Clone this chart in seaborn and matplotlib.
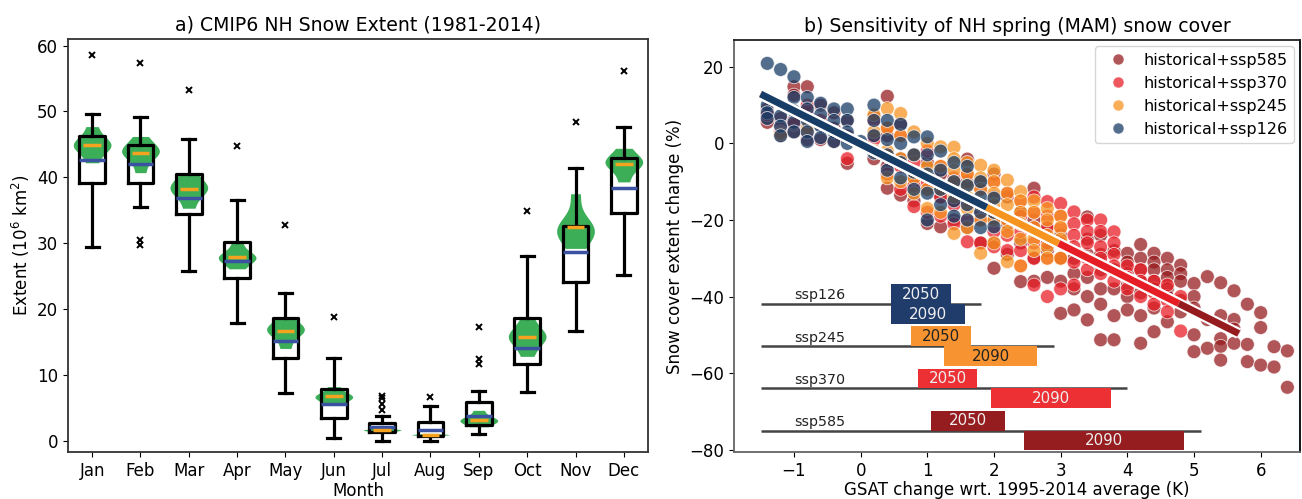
import numpy as np
import pandas as pd
import seaborn as sns
import matplotlib
matplotlib.use("Agg")
import matplotlib.pyplot as plt
import matplotlib.patheffects as pe

# ---------------- panel a data ----------------
months = ['Jan', 'Feb', 'Mar', 'Apr', 'May', 'Jun', 'Jul', 'Aug', 'Sep', 'Oct', 'Nov', 'Dec']

box_q1 = [39.2, 39.1, 34.4, 24.7, 12.5, 3.5, 1.3, 0.7, 2.4, 11.6, 24.1, 34.5]
box_q3 = [46.3, 44.9, 40.5, 30.2, 18.6, 7.8, 2.7, 2.9, 5.9, 18.6, 32.6, 43.0]
whis_lo = [29.4, 35.5, 25.8, 17.9, 7.3, 0.4, 0.0, 0.0, 1.0, 7.4, 16.7, 25.2]
whis_hi = [49.6, 49.2, 45.8, 36.6, 22.5, 12.5, 3.8, 5.2, 7.6, 28.1, 41.4, 47.7]
model_mean = [42.6, 42.0, 36.8, 27.3, 15.1, 5.5, 2.1, 1.6, 3.8, 14.0, 28.7, 38.3]
outliers = [[58.6], [57.4, 30.4, 29.7], [53.2], [44.8], [32.7], [18.8],
            [6.8, 6.5, 5.5, 4.6], [6.7], [17.2, 12.4, 11.7], [34.9], [48.4], [56.2]]

# observational estimates per month (violins, orange = their mean)
obs_extent = [
    [42.2, 44.5, 44.8, 45.0, 45.3, 47.7],
    [40.7, 43.4, 43.8, 44.0, 44.3, 46.2],
    [35.3, 37.6, 38.1, 38.5, 39.0, 40.6],
    [26.1, 27.4, 27.7, 28.0, 28.2, 30.0],
    [14.0, 16.2, 16.6, 16.9, 17.3, 18.5],
    [5.5, 6.3, 6.6, 6.8, 7.0, 8.2],
    [1.3, 1.5, 1.6, 1.6, 1.7, 1.9],
    [0.7, 0.85, 0.9, 0.9, 0.95, 1.1],
    [2.1, 2.8, 3.0, 3.2, 3.4, 4.6],
    [12.8, 15.0, 15.6, 16.0, 16.4, 18.5],
    [29.2, 31.4, 31.9, 32.3, 32.7, 37.5],
    [39.3, 41.6, 42.1, 42.4, 42.7, 44.4],
]

# ---------------- panel b data ----------------
scenarios = ['historical+ssp585', 'historical+ssp370', 'historical+ssp245', 'historical+ssp126']
scen_colors = ['#951b1e', '#e71d25', '#f79420', '#173c66']
fit_hi = [5.67, 4.77, 2.97, 1.89]  # end of each scenario's sensitivity line (K)

ssp585_gsat = [-1.4, -1.2, -1.0, -0.8, -0.6, -0.4, -0.2, 0.2, 0.4, 0.6, 0.8, 1.0, 1.2, 1.4, 1.6,
               1.8, 2.0, 2.2, 2.4, 2.6, 2.8, 3.0, 3.2, 3.4, 3.6, 3.8, 4.0, 4.2, 4.4, 4.6,
               4.8, 5.0, 5.2, 5.4, 5.6, 5.8, 6.0, 6.2, 6.4]
ssp585_snow = [[9.0, 7.0, 5.5], [6.5, 4.0, 2.0], [14.8, 12.6, 6.0, 3.0], [14.8, 8.0, 1.0],
               [10.0, 5.0, 1.0], [8.0, 4.0, 0.5], [6.0, 2.0, -5.2], [7.0, 2.0, -4.0],
               [12.3, 2.0, -6.0, -11.7], [5.0, -4.0, -13.5], [-3.0, -9.0, -15.0],
               [-5.0, -12.0, -20.9], [-8.0, -14.0, -21.8], [-10.0, -15.0, -20.0],
               [-4.1, -10.0, -16.0, -22.0], [-10.0, -18.0, -26.0],
               [-8.0, -14.0, -20.0, -26.0, -32.6], [-14.0, -21.0, -29.0], [-18.0, -26.0, -36.1],
               [-11.7, -20.0, -30.0, -36.0], [-22.0, -28.0, -35.0],
               [-24.0, -30.0, -36.0, -44.4], [-30.0, -34.0, -38.0, -43.5],
               [-19.2, -25.0, -29.0, -35.0, -40.0, -46.1], [-24.0, -29.0, -33.0, -38.0, -42.0, -51.3],
               [-28.0, -33.0, -38.0, -45.0, -51.3], [-28.7, -31.0, -34.0, -37.0, -40.0, -43.5],
               [-26.4, -30.0, -33.0, -36.0, -39.0, -45.0, -52.2],
               [-28.7, -31.0, -33.0, -36.0, -38.0, -43.0, -49.2],
               [-30.0, -33.0, -35.0, -38.0, -40.0, -46.6], [-31.8, -34.0, -36.0, -41.0, -44.0],
               [-36.6, -40.0, -43.0, -50.0, -54.4], [-34.8, -46.0, -53.5],
               [-36.4, -45.0, -51.0, -53.0, -56.6], [-38.5, -46.0, -48.5, -52.2],
               [-42.0, -52.5, -57.0], [-44.2, -48.1, -57.9], [-53.1, -58.4], [-54.2, -63.7]]

ssp370_gsat = [-1.4, -1.2, -1.0, -0.8, -0.6, -0.2, 0.2, 0.4, 0.6, 0.8, 1.0, 1.2, 1.4, 1.6, 1.8,
               2.0, 2.2, 2.4, 2.6, 2.8, 3.0, 3.2, 3.4, 3.6, 3.8, 4.0, 4.2, 4.4, 4.6, 4.8]
ssp370_snow = [[7.5], [3.0], [5.0], [3.0, 10.0], [6.0], [-4.0], [6.0, 1.0, -2.0],
               [4.0, -3.0, -8.0], [2.0, -6.0, -12.0], [-5.0, -11.0, -16.5],
               [-2.0, -10.0, -18.0], [-6.0, -14.0, -19.0], [-9.0, -16.0, -21.0],
               [-8.0, -15.0, -20.0, -25.7], [-12.0, -20.0, -26.0], [-10.0, -18.0, -23.0, -27.0],
               [-13.0, -20.0, -24.0, -28.0], [-15.0, -19.0, -23.0, -28.0, -32.0],
               [-14.0, -18.0, -22.0, -26.0, -30.0, -37.0], [-15.2, -19.0, -22.0, -26.0, -30.0, -40.0],
               [-15.7, -19.0, -22.0, -26.0, -30.0, -38.0], [-17.9, -21.0, -24.0, -27.0, -31.0, -37.0],
               [-20.0, -23.0, -26.0, -30.0, -33.0], [-20.0, -23.0, -27.0, -30.0, -34.0],
               [-23.1, -26.0, -29.0, -32.0, -36.0], [-32.0, -35.0, -38.0], [-33.0, -36.0, -40.0],
               [-36.0, -39.0, -42.0], [-37.0, -41.0, -44.0], [-40.0, -49.0]]

ssp245_gsat = [-1.2, -0.8, 0.2, 0.4, 0.6, 0.8, 1.0, 1.2, 1.4, 1.6, 1.8, 2.0, 2.2, 2.4, 2.6,
               2.8, 3.0]
ssp245_snow = [[2.5], [4.0], [7.5, 3.0, -2.0], [9.1, 4.0, -2.0, -9.0], [7.8, 2.0, -4.0, -10.0],
               [3.0, -3.0, -9.0, -13.0], [0.0, -6.0, -12.0, -17.0], [-0.9, -6.0, -12.0, -18.0],
               [-1.0, -4.0, -7.0, -10.0, -14.0, -23.5], [-5.0, -8.0, -11.0, -14.0, -17.0, -22.0],
               [-5.7, -9.0, -12.0, -16.0, -20.0, -28.7], [-7.0, -10.0, -13.0, -16.0, -20.0, -26.0],
               [-9.6, -13.0, -16.0, -20.0, -23.0, -30.9], [-12.6, -15.0, -18.0, -21.0, -25.0, -32.0],
               [-15.0, -18.0, -22.0, -25.0, -28.0], [-17.0, -20.0, -24.0, -27.0, -30.0],
               [-19.0, -22.0, -25.0, -30.0]]

ssp126_gsat = [-1.4, -1.2, -1.0, -0.8, -0.6, -0.4, -0.2, 0.0, 0.2, 0.4, 0.6, 0.8, 1.0, 1.2,
               1.4, 1.6, 1.8, 2.0]
ssp126_snow = [[20.9, 10.0, 8.0, 6.5], [19.3, 7.2, 4.5, 2.0], [17.4, 12.0, 8.5, 5.5, 3.0],
               [12.0, 9.0, 6.0, 3.0, 0.5], [10.5, 7.5, 4.5, 1.5], [9.0, 6.0, 3.0, 0.5],
               [9.0, 6.0, 3.0, 0.0], [0.5], [10.0, 6.0, 2.0, -2.5], [6.0, 1.0, -3.0, -7.0],
               [5.0, 0.0, -5.0, -9.0], [1.7, -3.0, -7.5, -12.0], [1.7, -3.0, -8.0, -13.0, -20.0],
               [-2.0, -7.0, -12.0, -16.0], [-5.0, -10.0, -15.0, -19.0],
               [-6.0, -11.0, -16.0, -20.0], [-10.0, -14.0, -18.0, -22.0], [-14.3, -18.0, -21.8]]

# assessed warming ranges (K) for the bars at the bottom
ssp_names = ['ssp126', 'ssp245', 'ssp370', 'ssp585']
ssp_bar_colors = ['#1f3c6b', '#f79431', '#ec3033', '#951c1f']
ssp_text_colors = ['#eeeeee', '#222222', '#eeeeee', '#eeeeee']
full_lo = [-1.5, -1.5, -1.5, -1.5]
full_hi = [1.81, 2.90, 4.00, 5.10]
mid_lo = [0.45, 0.75, 0.86, 1.05]
mid_hi = [1.35, 1.65, 1.75, 2.16]
end_lo = [0.45, 1.25, 1.95, 2.45]
end_hi = [1.56, 2.65, 3.75, 4.85]

# ---------------- figure ----------------
plt.rcParams['font.size'] = 12
plt.rcParams['axes.labelsize'] = 12
fig = plt.figure(figsize=(13.02, 4.99), dpi=100)
ax1 = fig.add_axes([0.0522, 0.0932, 0.4455, 0.8286])
ax2 = fig.add_axes([0.5637, 0.0942, 0.4348, 0.8256])

# ---- panel a ----
obs_df = pd.DataFrame([(m, v) for m, vals in zip(months, obs_extent) for v in vals],
                      columns=['month', 'extent'])
sns.violinplot(data=obs_df, x='month', y='extent', order=months, cut=0, inner=None,
               density_norm='width', width=0.78, color='#3cae58', saturation=1,
               linewidth=0, ax=ax1)

stats = []
for i in range(len(months)):
    stats.append(dict(q1=box_q1[i], q3=box_q3[i], whislo=whis_lo[i], whishi=whis_hi[i],
                      med=model_mean[i], fliers=outliers[i]))
pos = np.arange(len(months))
ax1.bxp(stats, positions=pos, widths=0.53, manage_ticks=False, zorder=3,
        boxprops=dict(color='black', lw=2.3),
        whiskerprops=dict(color='black', lw=2.3),
        capprops=dict(color='black', lw=2.3),
        medianprops=dict(color='#3b52a3', lw=2.5),
        flierprops=dict(marker='x', mec='black', ms=4, mew=1.4))
obs_mean = [np.mean(v) for v in obs_extent]
ax1.hlines(obs_mean, pos - 0.185, pos + 0.185, color='#f5a21f', lw=2.5, zorder=4)

ax1.set_xlim(-0.5, 11.5)
ax1.set_ylim(-1.8, 61.0)
ax1.set_yticks([0, 10, 20, 30, 40, 50, 60])
ax1.set_xticks(pos)
ax1.set_xticklabels(months)
ax1.set_xlabel('Month', labelpad=1)
ax1.set_ylabel('Extent (10$^6$ km$^2$)')
ax1.set_title('a) CMIP6 NH Snow Extent (1981-2014)', fontsize=13.6)
for sp in ax1.spines.values():
    sp.set_color('#333333')
    sp.set_linewidth(1.3)

# ---- panel b ----
rows = []
for name, gs, sn in [(scenarios[0], ssp585_gsat, ssp585_snow),
                     (scenarios[1], ssp370_gsat, ssp370_snow),
                     (scenarios[2], ssp245_gsat, ssp245_snow),
                     (scenarios[3], ssp126_gsat, ssp126_snow)]:
    for x, ys in zip(gs, sn):
        for y in ys:
            rows.append((name, x, y))
df = pd.DataFrame(rows, columns=['scenario', 'gsat', 'snow'])

pal = dict(zip(scenarios, scen_colors))
sns.scatterplot(data=df, x='gsat', y='snow', hue='scenario', hue_order=scenarios,
                palette=pal, s=100, alpha=0.74, edgecolor='white', linewidth=0.6,
                ax=ax2, zorder=2)
handles, labels = ax2.get_legend_handles_labels()

# pooled sensitivity, drawn for each scenario over its warming range
slope, icept = np.polyfit(df['gsat'], df['snow'], 1)
for name, hi in zip(scenarios, fit_hi):
    xs = np.array([-1.5, hi])
    ax2.plot(xs, icept + slope * xs, color=pal[name], lw=5, solid_capstyle='butt', zorder=4,
             path_effects=[pe.Stroke(linewidth=8, foreground='white'), pe.Normal()])

row_y = [-42, -53, -64, -75]
for i, nm in enumerate(ssp_names):
    y0 = row_y[i]
    ax2.hlines(y0, full_lo[i], full_hi[i], color='#444444', lw=1.8, zorder=3)
    ax2.barh(y0 + 2.6, mid_hi[i] - mid_lo[i], left=mid_lo[i], height=5.2,
             color=ssp_bar_colors[i], zorder=4)
    ax2.barh(y0 - 2.6, end_hi[i] - end_lo[i], left=end_lo[i], height=5.2,
             color=ssp_bar_colors[i], zorder=4)
    ax2.text((mid_lo[i] + mid_hi[i]) / 2, y0 + 2.6, '2050', ha='center', va='center',
             fontsize=10.8, color=ssp_text_colors[i], zorder=5)
    ax2.text((end_lo[i] + end_hi[i]) / 2, y0 - 2.6, '2090', ha='center', va='center',
             fontsize=10.8, color=ssp_text_colors[i], zorder=5)
    ax2.text(-1.0, y0 + 2.3, nm, ha='left', va='center', fontsize=10.3, color='#222222')

leg = ax2.legend(handles, labels, loc='upper right', fontsize=11.5, frameon=True,
                 edgecolor='#cccccc', borderaxespad=0.4, handletextpad=0.6)
for h in leg.legend_handles:
    h.set_markersize(8)

ax2.set_xlim(-1.9, 6.59)
ax2.set_ylim(-80.6, 27.0)
ax2.set_xticks([-1, 0, 1, 2, 3, 4, 5, 6])
ax2.set_yticks([-80, -60, -40, -20, 0, 20])
ax2.set_xlabel('GSAT change wrt. 1995-2014 average (K)', labelpad=1)
ax2.set_ylabel('Snow cover extent change (%)')
ax2.set_title('b) Sensitivity of NH spring (MAM) snow cover', fontsize=13.6)
ax2.spines['left'].set_color('#666666')
ax2.spines['bottom'].set_color('#666666')
ax2.spines['top'].set_color('#222222')
for sp in ax2.spines.values():
    sp.set_linewidth(1.3)

fig.savefig('out.png', dpi=100)
